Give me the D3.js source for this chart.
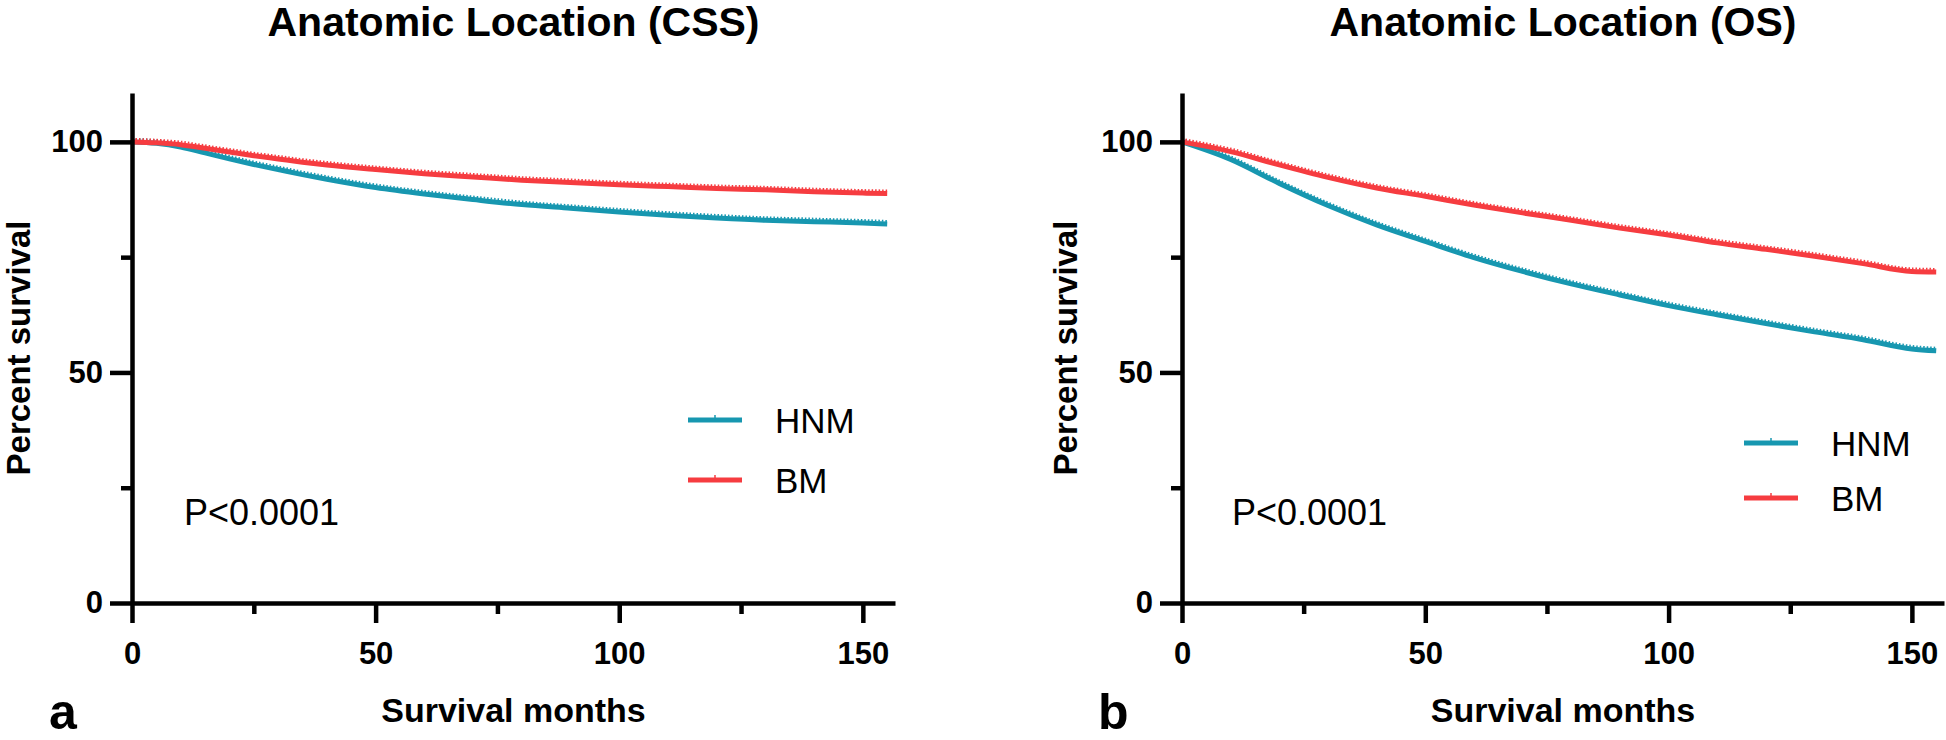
<!DOCTYPE html>
<html>
<head>
<meta charset="utf-8">
<script src="https://cdn.jsdelivr.net/npm/d3@7/dist/d3.min.js"></script>
<style>
  html, body { margin: 0; padding: 0; background: #fff; }
  svg { display: block; }
  text { font-family: "Liberation Sans", Arial, Helvetica, sans-serif; }
</style>
</head>
<body>
<svg id="chart" width="1946" height="740"></svg>
<script>
// ---------- data ----------
const panelLetters = ["a", "b"];
const panelTitles = ["Anatomic Location (CSS)", "Anatomic Location (OS)"];
const seriesNames = ["HNM", "BM"];
const xTickLabels = [0, 50, 100, 150];
const xMinorTicks = [25, 75, 125];
const yTickLabels = [0, 50, 100];
const yMinorTicks = [25, 75];
const pValueText = "P<0.0001";
const xAxisTitle = "Survival months";
const yAxisTitle = "Percent survival";

const cssMonths = [0, 5, 10, 15, 20, 25, 30, 35, 40, 50, 60, 70, 80, 90, 100, 110, 120, 130, 140, 150, 155];
const cssHNM   = [100, 99.7, 98.9, 97.6, 96.3, 95.1, 94.0, 92.9, 91.9, 90.1, 88.7, 87.5, 86.4, 85.6, 84.8, 84.1, 83.5, 83.0, 82.7, 82.4, 82.2];
const cssBM    = [100, 99.8, 99.4, 98.6, 97.8, 97.0, 96.3, 95.6, 95.0, 94.0, 93.1, 92.4, 91.7, 91.2, 90.7, 90.3, 89.9, 89.6, 89.2, 88.9, 88.8];

const osMonths = [0, 10, 20, 30, 40, 50, 60, 70, 80, 90, 100, 110, 120, 130, 140, 150, 155];
const osHNM    = [100, 96.2, 91.0, 86.2, 82.0, 78.4, 74.9, 71.9, 69.2, 66.8, 64.5, 62.5, 60.6, 58.8, 57.1, 55.1, 54.7];
const osBM     = [100, 97.9, 95.0, 92.3, 90.0, 88.2, 86.3, 84.6, 83.0, 81.3, 79.8, 78.1, 76.7, 75.2, 73.6, 71.9, 71.8];

const colors = ["#1797B0", "#F63C40"];

// ---------- layout ----------
const panels = [
  { months: cssMonths, series: [cssHNM, cssBM], x0: 132, x1: 895, legX: 688, legY: [420, 480], pX: 184, letterX: 49, yTitleX: 30 },
  { months: osMonths,  series: [osHNM, osBM],   x0: 1182, x1: 1944, legX: 1744, legY: [443, 498], pX: 1232, letterX: 1098, yTitleX: 1077 }
];
const yBottom = 603, yTop = 93;
const svg = d3.select("#chart");

panels.forEach((p, pi) => {
  const x = d3.scaleLinear().domain([0, 156.6]).range([p.x0, p.x1]);
  const y = d3.scaleLinear().domain([0, 110.6]).range([yBottom, yTop]);
  const g = svg.append("g");

  // title
  g.append("text")
    .attr("x", (p.x0 + p.x1) / 2).attr("y", 36)
    .attr("text-anchor", "middle")
    .style("font-size", "41px").style("font-weight", "bold")
    .text(panelTitles[pi]);

  // curves
  const line = d3.line()
    .x((d, i) => x(p.months[i]))
    .y(d => y(d))
    .curve(d3.curveMonotoneX);
  p.series.forEach((vals, si) => {
    g.append("path")
      .attr("d", line(vals))
      .attr("fill", "none")
      .attr("stroke", colors[si])
      .attr("stroke-width", 5);
    // censor-tick texture
    g.append("path")
      .attr("d", line(vals))
      .attr("transform", "translate(0,-3)")
      .attr("fill", "none")
      .attr("stroke", colors[si])
      .attr("stroke-width", 2)
      .attr("stroke-dasharray", "1.5 2");
  });

  // x axis
  const xAxis = g.append("g").attr("transform", `translate(0,${yBottom})`)
    .call(d3.axisBottom(x).tickValues(xTickLabels).tickSize(20).tickSizeOuter(0).tickPadding(19));
  const xMinor = g.append("g").attr("transform", `translate(0,${yBottom})`)
    .call(d3.axisBottom(x).tickValues(xMinorTicks).tickSize(11).tickFormat(""));
  xMinor.select(".domain").remove();

  // y axis
  const yAxis = g.append("g").attr("transform", `translate(${p.x0},0)`)
    .call(d3.axisLeft(y).tickValues(yTickLabels).tickSize(22).tickSizeOuter(0).tickPadding(7));
  const yMinor = g.append("g").attr("transform", `translate(${p.x0},0)`)
    .call(d3.axisLeft(y).tickValues(yMinorTicks).tickSize(11).tickFormat(""));
  yMinor.select(".domain").remove();

  [xAxis, xMinor, yAxis, yMinor].forEach(a => {
    a.selectAll(".domain").attr("stroke", "#000").attr("stroke-width", 4.5);
    a.selectAll(".tick line").attr("stroke", "#000").attr("stroke-width", 4.5);
    a.selectAll(".tick text").attr("fill", "#000")
      .style("font-size", "31px").style("font-weight", "bold")
      .style("font-family", "'Liberation Sans', Arial, sans-serif");
  });

  // axis titles
  g.append("text")
    .attr("x", (p.x0 + p.x1) / 2).attr("y", 722)
    .attr("text-anchor", "middle")
    .style("font-size", "34px").style("font-weight", "bold")
    .text(xAxisTitle);
  g.append("text")
    .attr("transform", `translate(${p.yTitleX},${(yBottom + yTop) / 2}) rotate(-90)`)
    .attr("text-anchor", "middle")
    .style("font-size", "33px").style("font-weight", "bold")
    .text(yAxisTitle);

  // legend
  seriesNames.forEach((name, si) => {
    const ly = p.legY[si];
    g.append("line")
      .attr("x1", p.legX).attr("x2", p.legX + 54)
      .attr("y1", ly).attr("y2", ly)
      .attr("stroke", colors[si]).attr("stroke-width", 5);
    g.append("line")
      .attr("x1", p.legX + 27).attr("x2", p.legX + 27)
      .attr("y1", ly).attr("y2", ly - 5)
      .attr("stroke", colors[si]).attr("stroke-width", 1.5);
    g.append("text")
      .attr("x", p.legX + 87).attr("y", ly + 13)
      .style("font-size", "35px")
      .text(name);
  });

  // p-value
  g.append("text")
    .attr("x", p.pX).attr("y", 525)
    .style("font-size", "36px")
    .text(pValueText);

  // panel letter
  g.append("text")
    .attr("x", p.letterX).attr("y", 729)
    .style("font-size", "50px").style("font-weight", "bold")
    .text(panelLetters[pi]);
});
</script>
</body>
</html>
